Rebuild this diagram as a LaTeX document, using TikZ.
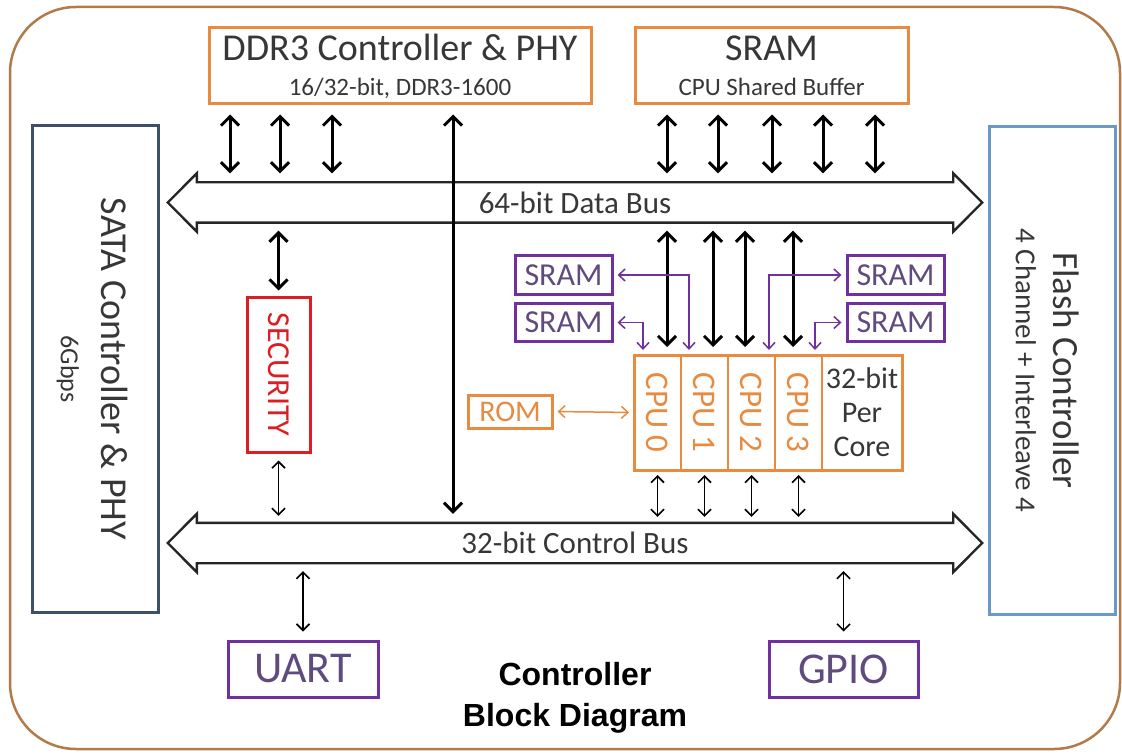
\documentclass[tikz,border=0pt]{standalone}
\usepackage{fontspec}
\setmainfont{Carlito}
\newfontfamily\titlefont{Liberation Sans}
\usepackage{tikz}
\usetikzlibrary{arrows.meta,positioning}
\definecolor{frameBrown}{RGB}{178,122,72}
\definecolor{boxOrange}{RGB}{232,138,64}
\definecolor{boxPurple}{RGB}{112,48,160}
\definecolor{textPurple}{RGB}{95,75,125}
\definecolor{sataBlue}{RGB}{62,80,104}
\definecolor{flashBlue}{RGB}{106,152,200}
\definecolor{secRed}{RGB}{220,30,35}
\definecolor{textGray}{RGB}{55,55,55}
\newcommand{\fsz}[2]{\fontsize{#1}{#2}\selectfont}
\tikzset{
    orange-box/.style = {draw=boxOrange, line width=3pt, inner sep=0pt, align=center, font=\fsz{38}{35}},
    purple-box/.style = {draw=boxPurple, line width=3pt, inner sep=0pt, text=textPurple},
    ctrl-box/.style = {line width=3pt, minimum width=126, minimum height=487},
    cpu-cell/.style = {draw=boxOrange, line width=1.3pt, minimum width=47, minimum height=115, inner sep=0pt, outer sep=0pt, text=boxOrange, font=\fsz{33}{33}},
    bus/.style = {minimum width=756, minimum height=40, inner sep=0pt, font=\fsz{31}{31}},
    bus-line/.style = {draw=black!85, line width=2.4pt},
    big-arrow/.style = {line width=3pt, >={Straight Barb[length=9pt,width=18pt]}, <->, shorten <=9pt, shorten >=9pt},
    thin-arrow/.style = {line width=1.6pt, >={Straight Barb[length=6.5pt,width=13pt]}, <->, shorten <=7pt, shorten >=7pt},
    purple-arrow/.style = {draw=boxPurple, line width=1.5pt, >={Straight Barb[length=6.5pt,width=12pt]}, <->, shorten <=4pt, shorten >=5pt},
}
\begin{document}
\begin{tikzpicture}[x=1pt, y=-1pt, every node/.style={text=textGray}]
\useasboundingbox (0,0) rectangle (1122,754);
\draw[frameBrown, line width=2.5pt, rounded corners=66pt] (10,7) rectangle (1120,749);

% buses
\node[bus] (databus) at (575,202.5) {64-bit Data Bus};
\node[bus] (ctrlbus) at (575,543) {32-bit Control Bus};
\foreach \b in {databus,ctrlbus}
    \draw[bus-line] (\b.north west) -- (\b.north east) -- ([yshift=9pt]\b.north east) -- ([xshift=29pt]\b.east)
        -- ([yshift=-9pt]\b.south east) -- (\b.south east) -- (\b.south west) -- ([yshift=-9pt]\b.south west)
        -- ([xshift=-29pt]\b.west) -- ([yshift=9pt]\b.north west) -- cycle;

% memory on top
\node[orange-box, minimum width=382, minimum height=76] (ddr) at (400,66) {DDR3 Controller \& PHY\\{\fsz{25}{25}16/32-bit, DDR3-1600}};
\node[orange-box, minimum width=273, minimum height=76] (sram) at (771.5,66) {SRAM\\{\fsz{25}{25}CPU Shared Buffer}};

% side controllers
\node[ctrl-box, draw=sataBlue] (sata) at (95.5,369) {};
\node[rotate=-90, align=center, font=\fsz{38}{41}] (satalabel) at ([xshift=-3pt]sata.center) {SATA Controller \& PHY\\{\fsz{26}{26}6Gbps}};
\node[ctrl-box, draw=flashBlue] (flash) at (1052.5,370.5) {};
\node[rotate=-90, align=center, font=\fsz{37}{38}] (flashlabel) at ([xshift=-5pt]flash.center) {Flash Controller\\{\fsz{29}{29}4 Channel + Interleave 4}};

\node[draw=secRed, line width=3pt, text=secRed, minimum width=63, minimum height=155, font=\fsz{32}{32}] (security) at (278.5,374.5) {\rotatebox{-90}{SECURITY}};

% cpu cluster
\node[cpu-cell] (cpu0) at (657.5,412.5) {\rotatebox{-90}{CPU 0}};
\node[cpu-cell, right=0pt of cpu0] (cpu1) {\rotatebox{-90}{CPU 1}};
\node[cpu-cell, right=0pt of cpu1] (cpu2) {\rotatebox{-90}{CPU 2}};
\node[cpu-cell, right=0pt of cpu2] (cpu3) {\rotatebox{-90}{CPU 3}};
\node[cpu-cell, right=0pt of cpu3, minimum width=80, text=textGray, align=center, font=\fsz{30}{34}] (core) {32-bit\\Per\\Core};
\draw[boxOrange, line width=3pt] (cpu0.north west) rectangle (core.south east);

\node[purple-box, minimum width=97, minimum height=38, font=\fsz{32}{32}] (sl1) at (563.5,275) {SRAM};
\node[purple-box, minimum width=97, minimum height=38, font=\fsz{32}{32}] (sl2) at (563.5,322.5) {SRAM};
\node[purple-box, minimum width=97, minimum height=38, font=\fsz{32}{32}] (sr1) at (895.5,275) {SRAM};
\node[purple-box, minimum width=97, minimum height=38, font=\fsz{32}{32}] (sr2) at (895.5,322.5) {SRAM};
\node[draw=boxOrange, line width=3pt, text=boxOrange, minimum width=84, minimum height=33, inner sep=0pt, font=\fsz{30}{30}] (rom) at (510,411.5) {ROM};

% peripherals
\node[purple-box, minimum width=150, minimum height=56, font=\fsz{44}{44}] (uart) at (303,669) {UART};
\node[purple-box, minimum width=149, minimum height=56, font=\fsz{44}{44}] (gpio) at (843.5,669) {GPIO};

\node[text=black, align=center, font=\titlefont\bfseries\fsz{32}{41}] (title) at (575,698) {Controller\\Block Diagram};

% data bus links
\foreach \x in {230,280,332}
    \draw[big-arrow] (\x,0 |- ddr.south) -- (\x,0 |- databus.north);
\foreach \x in {667,718,772,823,875}
    \draw[big-arrow] (\x,0 |- sram.south) -- (\x,0 |- databus.north);
\draw[big-arrow] (453,0 |- ddr.south) -- (453,0 |- ctrlbus.north);
\foreach \x in {667,713,745,793}
    \draw[big-arrow, shorten <=8pt, shorten >=8pt] (\x,0 |- databus.south) -- (\x,0 |- cpu0.north);
\draw[big-arrow, shorten <=8pt, shorten >=5pt] (security.north |- databus.south) -- (security.north);

% control bus links
\draw[thin-arrow] (security.south) -- (security.south |- ctrlbus.north);
\foreach \c in {cpu0,cpu1,cpu2,cpu3}
    \draw[thin-arrow, shorten <=5pt, shorten >=6pt] (\c.south) -- (\c.south |- ctrlbus.north);
\draw[thin-arrow, shorten <=8pt, shorten >=8pt] (uart.north |- ctrlbus.south) -- (uart.north);
\draw[thin-arrow, shorten <=8pt, shorten >=8pt] (gpio.north |- ctrlbus.south) -- (gpio.north);

% local memories
\draw[purple-arrow] (sl1.east) -| (689,0 |- cpu1.north);
\draw[purple-arrow] (sl2.east) -| (643,0 |- cpu0.north);
\draw[purple-arrow] (sr1.west) -| (769,0 |- cpu2.north);
\draw[purple-arrow] (sr2.west) -| (815,0 |- cpu3.north);
\draw[purple-arrow, draw=boxOrange] (rom.east) -- (cpu0.west);
\end{tikzpicture}
\end{document}
